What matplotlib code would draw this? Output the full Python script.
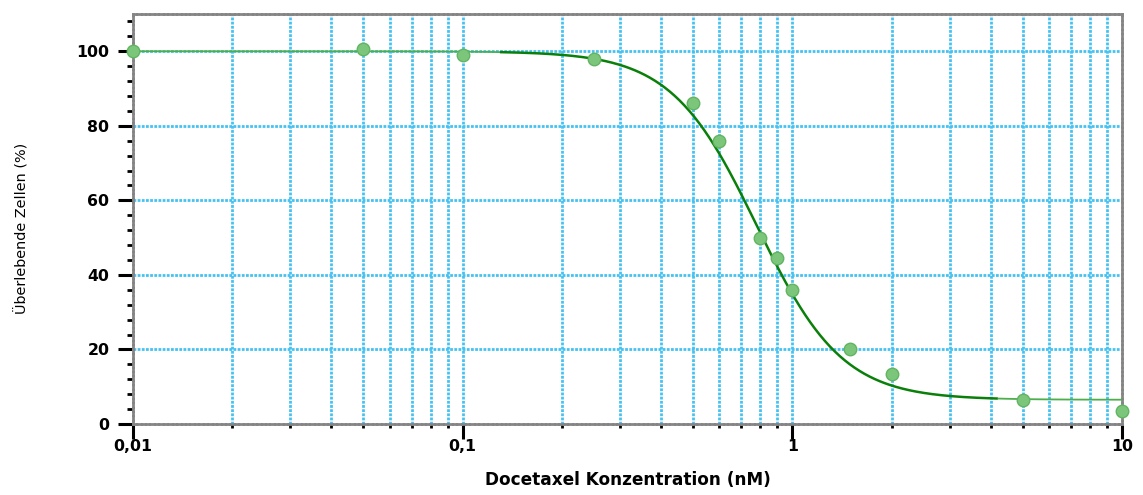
import numpy as np
import matplotlib.pyplot as plt
from matplotlib.ticker import FixedLocator, FixedFormatter, MultipleLocator

# measured survival (%) vs docetaxel concentration (nM)
conc = [0.01, 0.05, 0.1, 0.25, 0.5, 0.6, 0.8, 0.9, 1.0, 1.5, 2.0, 5.0, 10.0]
survival = [100.0, 100.5, 99.0, 98.0, 86.0, 76.0, 50.0, 44.5, 36.0, 20.0, 13.5, 6.5, 3.5]

# 4-parameter logistic fit
fit_top = 100.0
fit_bottom = 6.5
fit_ec50 = 0.78
fit_hill = 3.35

xtick_vals = [0.01, 0.1, 1, 10]
xtick_labels = ["0,01", "0,1", "1", "10"]

plt.rcParams['font.family'] = ['DejaVu Sans']

def logistic(x):
    return fit_bottom + (fit_top - fit_bottom) / (1 + (x / fit_ec50) ** fit_hill)

fig = plt.figure(figsize=(11.43, 4.95), dpi=100)
ax = fig.add_axes([133/1143, 71/495, 989/1143, 410/495])

ax.set_xscale('log')
ax.set_xlim(0.01, 10)
ax.set_ylim(0, 110)

grid_col = '#45c2f2'
grid_ls = (0, (1, 0.5))
minor_x = [m * 10.0**e for e in (-2, -1, 0) for m in range(2, 10)]
for v in minor_x + [0.1, 1]:
    ax.axvline(v, color=grid_col, lw=2, ls=grid_ls, zorder=1)
for v in [20, 40, 60, 80, 100]:
    ax.axhline(v, color=grid_col, lw=2, ls=grid_ls, zorder=1)

# fitted curve: light outside the data core, dark green through the transition
xs = np.logspace(-2, 1, 600)
ys = logistic(xs)
core = (xs >= 0.13) & (xs <= 4.2)
ax.plot(xs[xs <= 0.13], ys[xs <= 0.13], color='#4caf4c', lw=1.3, zorder=3)
ax.plot(xs[xs >= 4.2], ys[xs >= 4.2], color='#4caf4c', lw=1.3, zorder=3)
ax.plot(xs[core], ys[core], color='#0a800a', lw=1.8, zorder=3)

ax.plot(conc, survival, 'o', ms=9, mfc='#7cc67c', mec='#62b462', mew=1.0,
        zorder=4, clip_on=False)

for s in ax.spines.values():
    s.set_color('#858585')
    s.set_linestyle((0, (1, 0.6)))
    s.set_linewidth(2)

ax.xaxis.set_major_locator(FixedLocator(xtick_vals))
ax.xaxis.set_major_formatter(FixedFormatter(xtick_labels))
ax.xaxis.set_minor_locator(FixedLocator(minor_x))
ax.xaxis.set_minor_formatter(FixedFormatter([]))
ax.yaxis.set_major_locator(MultipleLocator(20))
ax.yaxis.set_minor_locator(MultipleLocator(4))

ax.tick_params(axis='both', which='major', length=11, width=2.2, color='black',
               labelsize=11.3)
ax.tick_params(axis='y', which='major', pad=6)
ax.tick_params(axis='x', which='major', pad=0)
ax.tick_params(axis='y', which='minor', length=4, width=2, color='black')
ax.tick_params(axis='x', which='minor', length=3, width=2, color='black')
for lab in ax.get_xticklabels() + ax.get_yticklabels():
    lab.set_fontweight('bold')

ax.set_xlabel('Docetaxel Konzentration (nM)', fontsize=12.2, fontweight='bold', labelpad=12)
ax.set_ylabel('Überlebende Zellen (%)', fontsize=10.4)
ax.yaxis.set_label_coords(-0.105, 0.478)

fig.savefig('out.png', dpi=100)
